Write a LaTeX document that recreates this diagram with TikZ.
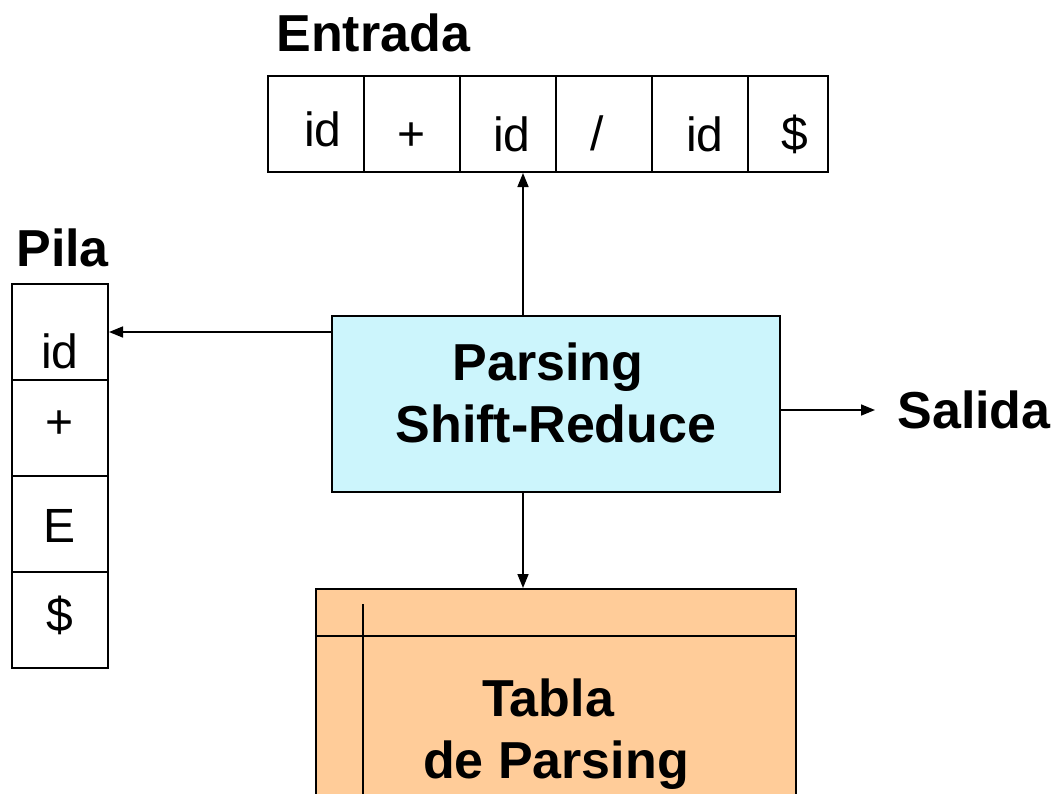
\documentclass[tikz,border=0pt]{standalone}
\usepackage{fontspec}
\setmainfont{Liberation Sans}
\usetikzlibrary{arrows.meta}
\definecolor{procblue}{RGB}{204,245,252}
\definecolor{tblorange}{RGB}{255,204,153}
\begin{document}
\begin{tikzpicture}[x=0.5pt,y=-0.5pt,
  cell/.style={draw,line width=1pt,minimum width=48pt,minimum height=48pt,inner sep=0pt,text depth=0pt,font=\fontsize{24}{29}\selectfont},
  big/.style={font=\fontsize{26}{31}\selectfont\bfseries},
  lbl/.style={big,inner sep=0pt},
  arr/.style={line width=0.8pt,-{Triangle[length=7pt,width=5.5pt]}}]
\clip (0,0) rectangle (1053,793);

% input tape
\foreach \t/\x/\w/\o/\d [count=\i] in {id/316/96/22/7,+/412/96/26/0,id/508/96/27/4,{/}/604/96/26/-7,id/700/96/27/5,\$/788/80/26/7}
  \node[cell,minimum width=\w*0.5pt,text height=\o pt] (in\i) at (\x,124) {\hspace*{\d pt}\t};
\node[lbl,anchor=base west] (entrada) at (276,51) {Entrada};

% stack
\foreach \t/\o [count=\i] in {id/36,+/10,E/18,\$/11}
  \node[cell,text height=\o pt] (st\i) at (60,{236+96*\i}) {\t};
\node[lbl,anchor=base west] (pila) at (16,266) {Pila};

% parser and its table
\node[big,draw,line width=1.2pt,fill=procblue,minimum width=224pt,minimum height=88pt,align=center,text depth=11pt] (main) at (556,404) {Parsing\hspace*{8pt}\\Shift-Reduce};
\node[draw,line width=1.2pt,fill=tblorange,minimum width=240pt,minimum height=150pt,anchor=north] (tabla) at (556,588) {};
\draw[line width=1pt] ([yshift=-24pt]tabla.north west) -- ([yshift=-24pt]tabla.north east);
\draw[line width=1pt] ([xshift=24pt,yshift=-8pt]tabla.north west) -- ([xshift=24pt]tabla.south west);
\node[big,align=center] (tbltxt) at (556,734) {Tabla\hspace*{8pt}\\de Parsing};
\node[lbl,anchor=west] (salida) at (897,410) {Salida};

% arrows
\coordinate (up) at ([xshift=-16.5pt]main.north);
\coordinate (dn) at ([xshift=-16.5pt]main.south);
\draw[arr] (up) -- (up |- in3.south);
\draw[arr] (main.west |- st1.east) -- (st1.east);
\draw[arr] (main.east |- salida.west) -- ([xshift=-11pt]salida.west);
\draw[arr] (dn) -- (dn |- tabla.north);
\end{tikzpicture}
\end{document}
